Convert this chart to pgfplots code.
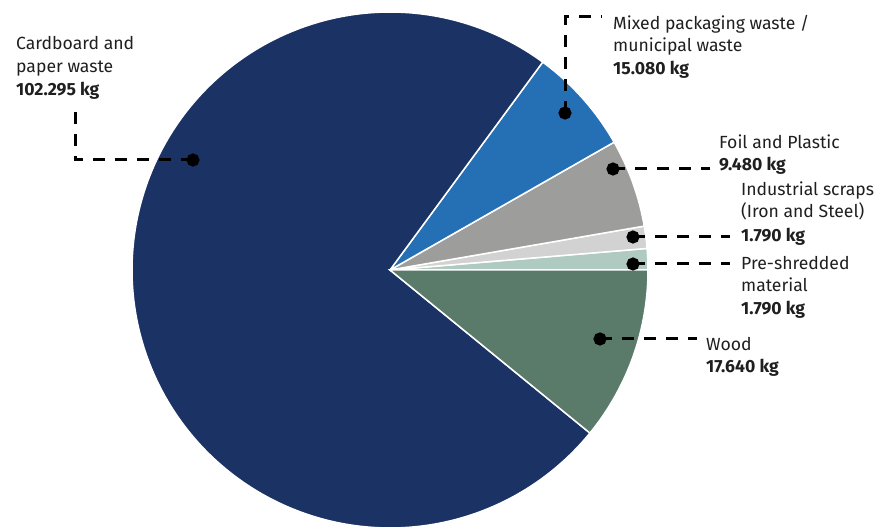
\documentclass[border=0pt]{standalone}
\usepackage{pgfplots}
\pgfplotsset{compat=1.18}
\usepackage{fontspec}
\setmainfont{Fira Sans}

\definecolor{cCard}{HTML}{1B3264}
\definecolor{cMixed}{HTML}{2570B5}
\definecolor{cFoil}{HTML}{9D9D9B}
\definecolor{cInd}{HTML}{D2D2D2}
\definecolor{cPre}{HTML}{AFCBC1}
\definecolor{cWood}{HTML}{5A7A6A}

% slice sizes in degrees, as drawn (counter-clockwise from east)
\def\sPre{4.8}
\def\sInd{5.0}
\def\sFoil{19.9}
\def\sMixed{24.0}
\def\sCard{267.1}
\def\sWood{39.2}
\pgfmathsetmacro\bA{\sPre}
\pgfmathsetmacro\bB{\bA+\sInd}
\pgfmathsetmacro\bC{\bB+\sFoil}
\pgfmathsetmacro\bD{\bC+\sMixed}
\pgfmathsetmacro\bE{\bD+\sCard}

\newcommand{\txt}{\fontsize{17.6}{22.7}\selectfont}

\begin{document}
\begin{tikzpicture}
\begin{axis}[width=881pt, height=528pt, scale only axis, hide axis,
  xmin=0, xmax=881, ymin=-528, ymax=0,
  every axis plot/.append style={samples=60, variable=\t},
  slice/.style={draw=white, line width=1.5pt}]
% pie slices, centre (390,270), radius 258
\addplot[slice, fill=cPre, domain=0:\bA] ({390+258*cos(t)},{-270+258*sin(t)}) -- (axis cs:390,-270) -- cycle;
\addplot[slice, fill=cInd, domain=\bA:\bB] ({390+258*cos(t)},{-270+258*sin(t)}) -- (axis cs:390,-270) -- cycle;
\addplot[slice, fill=cFoil, domain=\bB:\bC] ({390+258*cos(t)},{-270+258*sin(t)}) -- (axis cs:390,-270) -- cycle;
\addplot[slice, fill=cMixed, domain=\bC:\bD] ({390+258*cos(t)},{-270+258*sin(t)}) -- (axis cs:390,-270) -- cycle;
\addplot[slice, fill=cCard, domain=\bD:\bE, samples=200] ({390+258*cos(t)},{-270+258*sin(t)}) -- (axis cs:390,-270) -- cycle;
\addplot[slice, fill=cWood, domain=\bE:360] ({390+258*cos(t)},{-270+258*sin(t)}) -- (axis cs:390,-270) -- cycle;

% leader lines
\pgfplotsset{leader/.style={black, line width=3pt, dash pattern=on 12pt off 10pt,
  mark=*, mark size=5pt, mark indices={1}, mark options={solid}}}
\addplot[leader] coordinates {(193,-160) (75,-160) (75,-110)};
\addplot[leader] coordinates {(565,-113) (565,-17) (602,-17)};
\addplot[leader] coordinates {(613,-169) (710,-169)};
\addplot[leader] coordinates {(633,-237) (730,-237)};
\addplot[leader] coordinates {(633,-264) (730,-264)};
\addplot[leader] coordinates {(600,-339) (697,-339)};

% labels
\begin{scope}[every node/.style={anchor=base west, inner sep=0pt, font=\txt, text=black!88}]
\node at (axis cs:16,-50) {Cardboard and};
\node at (axis cs:16,-73) {paper waste};
\node at (axis cs:16,-95.5) {\bfseries 102.295 kg};
\node at (axis cs:613,-29.5) {Mixed packaging waste /};
\node at (axis cs:613,-52) {municipal waste};
\node at (axis cs:613,-75) {\bfseries 15.080 kg};
\node at (axis cs:719,-148.5) {Foil and Plastic};
\node at (axis cs:719,-171) {\bfseries 9.480 kg};
\node at (axis cs:741,-196) {Industrial scraps};
\node at (axis cs:741,-218) {(Iron and Steel)};
\node at (axis cs:741,-241.5) {\bfseries 1.790 kg};
\node at (axis cs:741,-270) {Pre-shredded};
\node at (axis cs:741,-292) {material};
\node at (axis cs:741,-315) {\bfseries 1.790 kg};
\node at (axis cs:706,-350) {Wood};
\node at (axis cs:706,-373) {\bfseries 17.640 kg};
\end{scope}
\end{axis}
\pgfresetboundingbox
\path (current axis.south west) rectangle (current axis.north east);
\end{tikzpicture}
\end{document}
